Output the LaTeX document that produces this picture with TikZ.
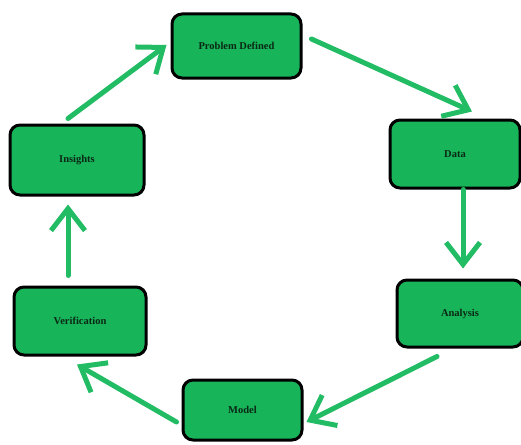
\documentclass[tikz,border=0pt]{standalone}
\usepackage{fontspec}
\setmainfont{Liberation Serif}
\usetikzlibrary{arrows.meta}
\definecolor{boxgreen}{RGB}{24,180,90}
\definecolor{arrgreen}{RGB}{34,188,100}
\definecolor{txtdark}{RGB}{10,40,20}
\tikzset{
  stagebox/.style={draw=black, line width=3pt, fill=boxgreen, rounded corners=10pt,
    inner sep=0pt, text=txtdark, font=\fontsize{10.5}{12}\selectfont\bfseries},
  flowarrow/.style={draw=arrgreen, line width=5pt, line cap=round,
    -{Straight Barb[length=22pt,width=34pt,line width=5pt]}}
}
\begin{document}
\begin{tikzpicture}[x=1pt,y=-1pt]
\useasboundingbox (0,0) rectangle (521,444);
\node[stagebox, minimum width=129pt, minimum height=64pt] (pd) at (236.5,46) {Problem Defined};
\node[stagebox, minimum width=130pt, minimum height=68pt] (data) at (455,154) {Data};
\node[stagebox, minimum width=126pt, minimum height=67pt] (an) at (460,313.5) {Analysis};
\node[stagebox, minimum width=119pt, minimum height=60pt] (model) at (242.5,410) {Model};
\node[stagebox, minimum width=132pt, minimum height=68pt] (ver) at (80,321) {Verification};
\node[stagebox, minimum width=134pt, minimum height=70pt] (ins) at (77,160) {Insights};

\draw[flowarrow] ([shift={(9pt,7pt)}]pd.east) -- ([shift={(17pt,7pt)}]data.north);
\draw[flowarrow] ([shift={(8pt,0pt)}]data.south) -- ([shift={(3pt,10pt)}]an.north);
\draw[flowarrow] ([shift={(-23pt,-8pt)}]an.south) -- ([shift={(3pt,-12pt)}]model.east);
\draw[flowarrow] ([shift={(-5pt,-12pt)}]model.west) -- ([shift={(-3pt,-8pt)}]ver.south);
\draw[flowarrow] ([shift={(-12pt,10pt)}]ver.north) -- ([shift={(-9pt,-8pt)}]ins.south);
\draw[flowarrow] ([shift={(-9pt,5pt)}]ins.north) -- ([shift={(-4pt,1pt)}]pd.west);
\end{tikzpicture}
\end{document}
